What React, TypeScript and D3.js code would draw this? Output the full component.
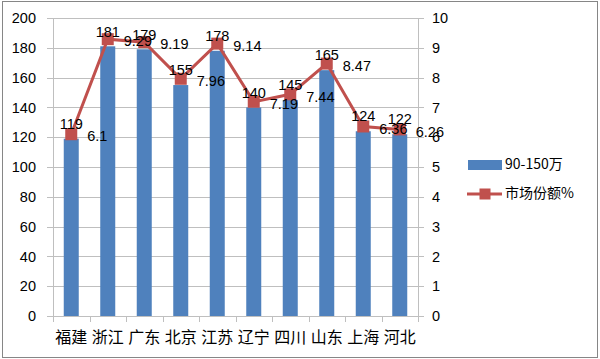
import React, { useRef, useEffect } from "react";
import * as d3 from "d3";

const provinces = ["福建", "浙江", "广东", "北京", "江苏", "辽宁", "四川", "山东", "上海", "河北"];
const sales = [119, 181, 179, 155, 178, 140, 145, 165, 124, 122];
const share = [6.1, 9.29, 9.19, 7.96, 9.14, 7.19, 7.44, 8.47, 6.36, 6.26];
const leftTicks = [0, 20, 40, 60, 80, 100, 120, 140, 160, 180, 200];
const rightTicks = [0, 1, 2, 3, 4, 5, 6, 7, 8, 9, 10];
const barName = "90-150万";
const lineName = "市场份额%";

const W = 600;
const H = 359;
const FONT = "'Liberation Sans', Arial, sans-serif";
const CJK = "'Noto Sans CJK SC', sans-serif";

const App = () => {
  const ref = useRef<SVGSVGElement>(null);

  useEffect(() => {
    const svg = d3.select(ref.current);
    svg.selectAll("*").remove();

    const left = 53;
    const right = 418;
    const top = 18;
    const bottom = 316;

    // outer frame
    svg
      .append("rect")
      .attr("x", 2.5)
      .attr("y", 1.5)
      .attr("width", 595)
      .attr("height", 356)
      .attr("fill", "#fff")
      .attr("stroke", "#868686");

    const x = d3.scaleBand().domain(provinces).range([left, right]).paddingInner(0).paddingOuter(0);
    const y = d3.scaleLinear().domain([0, 200]).range([bottom, top]);
    const y2 = d3.scaleLinear().domain([0, 10]).range([bottom, top]);
    const barW = 15;

    // gridlines
    svg
      .append("g")
      .selectAll("line")
      .data(leftTicks)
      .enter()
      .append("line")
      .attr("x1", left - 6)
      .attr("x2", right + 6)
      .attr("y1", (d) => Math.round(y(d)) + 0.5)
      .attr("y2", (d) => Math.round(y(d)) + 0.5)
      .attr("stroke", "#bfbfbf");

    // axes lines
    [left, right].forEach((ax) => {
      svg
        .append("line")
        .attr("x1", ax + 0.5)
        .attr("x2", ax + 0.5)
        .attr("y1", top)
        .attr("y2", bottom + 0.5)
        .attr("stroke", "#bfbfbf");
    });

    // x ticks
    svg
      .append("g")
      .selectAll("line")
      .data([...provinces.map((p) => x(p) as number), right])
      .enter()
      .append("line")
      .attr("x1", (d) => Math.round(d) + 0.5)
      .attr("x2", (d) => Math.round(d) + 0.5)
      .attr("y1", bottom)
      .attr("y2", bottom + 6)
      .attr("stroke", "#bfbfbf");

    // left tick labels
    svg
      .append("g")
      .selectAll("text")
      .data(leftTicks)
      .enter()
      .append("text")
      .attr("x", 36)
      .attr("y", (d) => y(d))
      .attr("dy", "0.36em")
      .attr("text-anchor", "end")
      .attr("font-family", FONT)
      .attr("font-size", 14.5)
      .attr("fill", "#000")
      .text((d) => d);

    // right tick labels
    svg
      .append("g")
      .selectAll("text")
      .data(rightTicks)
      .enter()
      .append("text")
      .attr("x", 432)
      .attr("y", (d) => y2(d))
      .attr("dy", "0.36em")
      .attr("font-family", FONT)
      .attr("font-size", 14.5)
      .attr("fill", "#000")
      .text((d) => d);

    // category labels
    svg
      .append("g")
      .selectAll("text")
      .data(provinces)
      .enter()
      .append("text")
      .attr("x", (d) => (x(d) as number) + x.bandwidth() / 2)
      .attr("y", 337)
      .attr("dy", "0.36em")
      .attr("text-anchor", "middle")
      .attr("font-family", CJK)
      .attr("font-size", 16)
      .attr("fill", "#000")
      .text((d) => d);

    // bars
    svg
      .append("g")
      .selectAll("rect")
      .data(sales)
      .enter()
      .append("rect")
      .attr("x", (d, i) => (x(provinces[i]) as number) + x.bandwidth() / 2 - barW / 2)
      .attr("y", (d) => y(d))
      .attr("width", barW)
      .attr("height", (d) => bottom - y(d))
      .attr("fill", "#4f81bd");

    // line
    const line = d3
      .line<number>()
      .x((d, i) => (x(provinces[i]) as number) + x.bandwidth() / 2)
      .y((d) => y2(d));

    svg
      .append("path")
      .datum(share)
      .attr("d", line)
      .attr("fill", "none")
      .attr("stroke", "#c0504d")
      .attr("stroke-width", 3);

    svg
      .append("g")
      .selectAll("rect")
      .data(share)
      .enter()
      .append("rect")
      .attr("x", (d, i) => (x(provinces[i]) as number) + x.bandwidth() / 2 - 6)
      .attr("y", (d) => y2(d) - 6)
      .attr("width", 12)
      .attr("height", 12)
      .attr("fill", "#c0504d");

    // bar labels
    svg
      .append("g")
      .selectAll("text")
      .data(sales)
      .enter()
      .append("text")
      .attr("x", (d, i) => (x(provinces[i]) as number) + x.bandwidth() / 2)
      .attr("y", (d) => y(d) - 15)
      .attr("dy", "0.36em")
      .attr("text-anchor", "middle")
      .attr("font-family", FONT)
      .attr("font-size", 14.5)
      .attr("fill", "#000")
      .text((d) => d);

    // line labels
    svg
      .append("g")
      .selectAll("text")
      .data(share)
      .enter()
      .append("text")
      .attr("x", (d, i) => (x(provinces[i]) as number) + x.bandwidth() / 2 + 16)
      .attr("y", (d) => y2(d) + 2)
      .attr("dy", "0.36em")
      .attr("font-family", FONT)
      .attr("font-size", 14.5)
      .attr("fill", "#000")
      .text((d) => d);

    // legend
    const lg = svg.append("g");
    lg.append("rect").attr("x", 468).attr("y", 160).attr("width", 34).attr("height", 10).attr("fill", "#4f81bd");
    lg.append("text")
      .attr("x", 505)
      .attr("y", 164)
      .attr("dy", "0.36em")
      .attr("font-family", CJK)
      .attr("font-size", 14)
      .text(barName);
    lg.append("line")
      .attr("x1", 467)
      .attr("x2", 502)
      .attr("y1", 194)
      .attr("y2", 194)
      .attr("stroke", "#c0504d")
      .attr("stroke-width", 3);
    lg.append("rect").attr("x", 479.5).attr("y", 188.5).attr("width", 11).attr("height", 11).attr("fill", "#c0504d");
    lg.append("text")
      .attr("x", 505)
      .attr("y", 193)
      .attr("dy", "0.36em")
      .attr("font-family", CJK)
      .attr("font-size", 14)
      .text(lineName);
  }, []);

  return (
    <div style={{ position: "absolute", left: 0, top: 0 }}>
      <svg ref={ref} width={W} height={H} style={{ display: "block" }}></svg>
    </div>
  );
};

export default App;
